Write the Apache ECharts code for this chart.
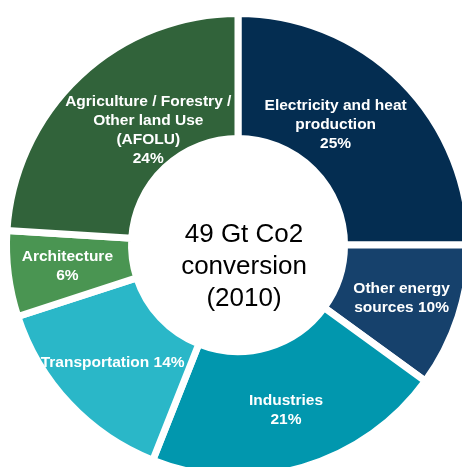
<!DOCTYPE html>
<html>
<head>
<meta charset="utf-8">
<script src="https://cdn.jsdelivr.net/npm/echarts@6/dist/echarts.min.js"></script>
<style>
html,body{margin:0;padding:0;background:#fff;}
#chart{width:462px;height:467px;}
</style>
</head>
<body>
<div id="chart"></div>
<script>
var categories = ['Electricity and heat production', 'Other energy sources', 'Industries', 'Transportation', 'Architecture', 'Agriculture / Forestry / Other land Use (AFOLU)'];
var values = [25, 10, 21, 14, 6, 24];
var labelTexts = [
  'Electricity and heat\nproduction\n{p}',
  'Other energy\nsources {p}',
  'Industries\n{p}',
  'Transportation {p}',
  'Architecture\n{p}',
  'Agriculture / Forestry /\nOther land Use\n(AFOLU)\n{p}'
];
var colors = ['#042d51', '#16416c', '#0197ae', '#2ab7c8', '#4a9552', '#31633a'];
var centerLines = ['49 Gt Co2', 'conversion', '(2010)'];

var labelShift = {0: [-24, 1], 5: [28, 11]};

var chart = echarts.init(document.getElementById('chart'), null, {renderer: 'canvas'});
chart.setOption({
  animation: false,
  color: colors,
  graphic: [{
    type: 'text',
    x: 244, y: 267,
    style: {
      text: centerLines.join('\n'),
      fill: '#000',
      font: '26px "Liberation Sans", Arial, sans-serif',
      lineHeight: 32,
      align: 'center',
      verticalAlign: 'middle'
    }
  }],
  series: [{
    type: 'pie',
    center: [238, 245],
    radius: [106.5, 231.5],
    startAngle: 90,
    clockwise: true,
    avoidLabelOverlap: false,
    itemStyle: {borderColor: '#fff', borderWidth: 7},
    label: {
      show: true,
      position: 'inside',
      color: '#fff',
      fontFamily: '"Liberation Sans", Arial, sans-serif',
      fontWeight: 'bold',
      fontSize: 15.5,
      lineHeight: 19,
      align: 'center',
      formatter: function (p) {
        return labelTexts[p.dataIndex].replace('{p}', Math.round(p.percent) + '%');
      }
    },
    labelLine: {show: false},
    labelLayout: function (params) {
      var s = labelShift[params.dataIndex];
      if (!s) return {};
      return {dx: s[0], dy: s[1]};
    },
    emphasis: {disabled: true},
    data: categories.map(function (c, i) { return {name: c, value: values[i]}; })
  }]
});
</script>
</body>
</html>
